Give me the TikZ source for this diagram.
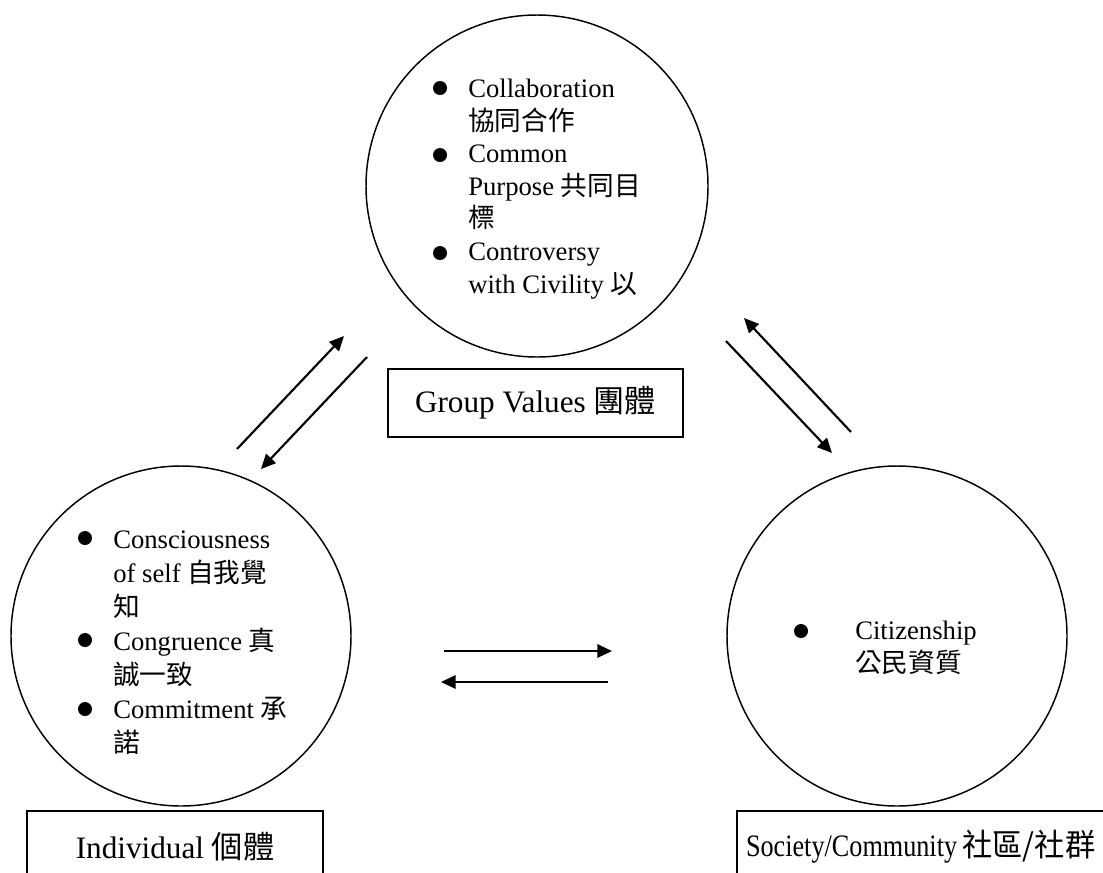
\documentclass[tikz,border=0pt]{standalone}
\usepackage{fontspec}
\setmainfont{Liberation Serif}
\newfontfamily\cjk{Noto Sans CJK TC}
\usetikzlibrary{arrows.meta}

\begin{document}
\begin{tikzpicture}[x=0.75pt,y=-0.75pt,
  ring/.style={draw, line width=1.1pt, circle, minimum size=255pt, inner sep=0pt},
  labelbox/.style={draw, line width=1.5pt, inner ysep=0pt, inner xsep=6.75pt,
    font=\fontsize{23.4}{28}\selectfont},
  itemtext/.style={align=left, inner sep=0pt, anchor=base west},
  dot/.style={fill, circle, inner sep=0pt, minimum size=10.5pt},
  link/.style={line width=1.6pt, -{Triangle[length=11pt,width=10pt]}}
]
\useasboundingbox (0,0) rectangle (1103,872);
\clip (0,0) rectangle (1103,872);

% the three circles
\node[ring, minimum size=256.5pt] (group) at (537,186) {};
\node[ring] (indiv) at (181,636) {};
\node[ring] (society) at (897,636) {};

% captions
\node[labelbox, minimum width=221.25pt, minimum height=51pt] (groupbox) at (535.5,403)
  {Group Values \cjk{團體}};
\node[labelbox, minimum width=222pt, minimum height=54pt] (indivbox) at (175,847)
  {Individual \cjk{個體}};
\node[labelbox, anchor=west, text width=300pt, align=left, minimum height=54pt]
  (societybox) at (736,847)
  {\scalebox{0.84}[1]{Society/Community}\hspace{4pt}\scalebox{0.97}[1]{\cjk{社區/社群}}};

% group values list (anchored at the baseline of its last line)
\node[dot] (gb1) at (440,88) {};
\node[dot] (gb2) at (440,155) {};
\node[dot] (gb3) at (440,253) {};
\node[itemtext, font=\fontsize{20}{24.4}\selectfont] (gtext) at (468,293)
  {Collaboration\\\cjk{協同合作}\\Common\\Purpose \cjk{共同目}\\\cjk{標}\\Controversy\\with Civility \cjk{以}};

% individual list
\node[dot] (ib1) at (85,538) {};
\node[dot] (ib2) at (85,640) {};
\node[dot] (ib3) at (85,709) {};
\node[itemtext, font=\fontsize{20}{25.5}\selectfont] (itext) at (113,752)
  {Consciousness\\of self \cjk{自我覺}\\\cjk{知}\\Congruence \cjk{真}\\\cjk{誠一致}\\Commitment \cjk{承}\\\cjk{諾}};

% society list
\node[dot] (sb1) at (801,631) {};
\node[itemtext, font=\fontsize{20}{24.4}\selectfont] (stext) at (855,672.5)
  {Citizenship\\\cjk{公民資質}};

% arrow end points
\coordinate (a1s) at (237,449);  \coordinate (a1e) at (344,336);
\coordinate (a2s) at (367,357);  \coordinate (a2e) at (261,469);
\coordinate (a3s) at (726,341);  \coordinate (a3e) at (832,453);
\coordinate (a4s) at (851,432);  \coordinate (a4e) at (744,318);
\coordinate (a5s) at (444,651);  \coordinate (a5e) at (612,651);
\coordinate (a6s) at (608,682);  \coordinate (a6e) at (441,682);

\draw[link] (a1s) -- (a1e);
\draw[link] (a2s) -- (a2e);
\draw[link] (a3s) -- (a3e);
\draw[link] (a4s) -- (a4e);
\draw[link] (a5s) -- (a5e);
\draw[link] (a6s) -- (a6e);
\end{tikzpicture}
\end{document}
